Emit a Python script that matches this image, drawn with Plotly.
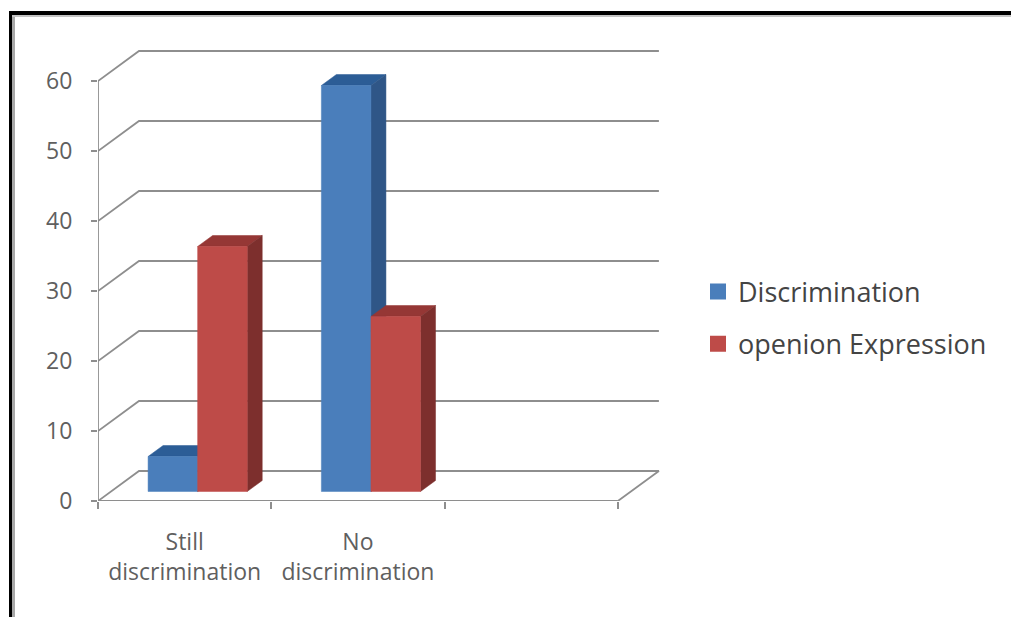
import plotly.graph_objects as go

# Chart data
categories = ["Still<br>discrimination", "No<br>discrimination"]
discrimination = [5, 58]
opinion_expression = [35, 25]
value_ticks = [0, 10, 20, 30, 40, 50, 60]
category_edges = [0, 1, 2, 3]

# Canvas and plot box, in pixels
WIDTH, HEIGHT = 1011, 617
LEFT, BOTTOM_Y = 98, 501
CAT_PX, UNIT_PX = 173.3, 7.0
RIGHT_Y_LIMIT, RIGHT_X_LIMIT = 45, 668
x_max = (RIGHT_X_LIMIT - LEFT) / CAT_PX
y_max = (BOTTOM_Y - RIGHT_Y_LIMIT) / UNIT_PX

# Oblique projection: depth 1 is the back wall of the chart box
DEPTH_X = 41 / CAT_PX
DEPTH_Y = 30 / UNIT_PX
BAR_FRONT, BAR_BACK = 0.317, 0.683
BAR_WIDTH = 0.286
BAR_START = 0.214

BLUE = ("#4a7ebb", "#2c5d96", "#2f5687")
RED = ("#be4b48", "#953735", "#7d2f2d")
GRID = "#8e8e8e"
FONT = "Open Sans"


def project(x, y, depth):
    return x + depth * DEPTH_X, y + depth * DEPTH_Y


def polygon(corners, colour):
    pts = [project(*c) for c in corners]
    xs = [p[0] for p in pts] + [pts[0][0]]
    ys = [p[1] for p in pts] + [pts[0][1]]
    return go.Scatter(x=xs, y=ys, mode="lines", fill="toself", fillcolor=colour,
                      line=dict(color=colour, width=0.5), hoverinfo="skip",
                      showlegend=False)


def bar_faces(x0, x1, value, colours):
    front, top, side = colours
    f, b = BAR_FRONT, BAR_BACK
    return [
        polygon([(x0, value, f), (x1, value, f), (x1, value, b), (x0, value, b)], top),
        polygon([(x1, 0, f), (x1, value, f), (x1, value, b), (x1, 0, b)], side),
        polygon([(x0, 0, f), (x1, 0, f), (x1, value, f), (x0, value, f)], front),
    ]


fig = go.Figure()

# Wall gridlines, running from the front axis back and then across
x_end = category_edges[-1]
for v in value_ticks:
    p0 = project(0, v, 0)
    p1 = project(0, v, 1)
    p2 = project(x_end, v, 1)
    xs = [p0[0], p1[0], p2[0]]
    ys = [p0[1], p1[1], p2[1]]
    if v == 0:
        p3 = project(x_end, v, 0)
        xs.append(p3[0])
        ys.append(p3[1])
    fig.add_trace(go.Scatter(x=xs, y=ys, mode="lines", hoverinfo="skip", showlegend=False,
                             line=dict(color=GRID, width=1.8)))

# Front axis lines; this trace also carries the secondary x axis that draws the ticks
fig.add_trace(go.Scatter(x=[0, 0, x_end], y=[value_ticks[-1], 0, 0], mode="lines",
                         xaxis="x2", hoverinfo="skip", showlegend=False,
                         line=dict(color=GRID, width=1.8)))

# Bars, blue before red so each red bar sits in front of its neighbour
for i in range(len(categories)):
    x0 = i + BAR_START
    fig.add_traces(bar_faces(x0, x0 + BAR_WIDTH, discrimination[i], BLUE))
    fig.add_traces(bar_faces(x0 + BAR_WIDTH, x0 + 2 * BAR_WIDTH, opinion_expression[i], RED))

# Legend entries
for name, colour in (("Discrimination", BLUE[0]), ("openion Expression", RED[0])):
    fig.add_trace(go.Scatter(x=[None], y=[None], mode="markers", name=name, legendgroup=name,
                             marker=dict(symbol="square", size=16, color=colour)))

# Outer frame: heavy black edge with a soft grey inner edge, top and left only
px = lambda v: (v - LEFT) / (RIGHT_X_LIMIT - LEFT)
py = lambda v: (BOTTOM_Y - v) / (BOTTOM_Y - RIGHT_Y_LIMIT)
frame = [
    (9, 11, WIDTH, 15, "#000000"),
    (9, 11, 12, HEIGHT, "#000000"),
    (12, 15, 15, HEIGHT, "#a8a8a8"),
    (12, 15, WIDTH, 17, "#c4c4c4"),
]
shapes = [dict(type="rect", xref="paper", yref="paper", x0=px(a), x1=px(c), y0=py(b), y1=py(d),
               fillcolor=col, line=dict(width=0), layer="above") for a, b, c, d, col in frame]

fig.update_layout(
    width=WIDTH, height=HEIGHT, autosize=False,
    margin=dict(l=LEFT, r=WIDTH - RIGHT_X_LIMIT, t=RIGHT_Y_LIMIT, b=HEIGHT - BOTTOM_Y),
    paper_bgcolor="white", plot_bgcolor="rgba(0,0,0,0)",
    shapes=shapes,
    xaxis=dict(range=[0, x_max], showgrid=False, zeroline=False, showline=False,
               tickmode="array", tickvals=[i + 0.5 for i in range(len(categories))],
               ticktext=categories, ticks="", ticklabelstandoff=25,
               tickfont=dict(family=FONT, size=23, color="#5f5f5f")),
    xaxis2=dict(range=[0, x_max], overlaying="x", anchor="y", side="bottom", showgrid=False,
                zeroline=False, showline=False, tickmode="array", tickvals=category_edges,
                ticktext=[""] * len(category_edges), ticks="outside", ticklen=7, tickwidth=1.8,
                tickcolor=GRID),
    yaxis=dict(range=[0, y_max], showgrid=False, zeroline=False, showline=False,
               tickmode="array", tickvals=value_ticks, ticks="outside", ticklen=6, tickwidth=1.8,
               tickcolor=GRID, ticklabelstandoff=14,
               tickfont=dict(family=FONT, size=23, color="#5f5f5f")),
    legend=dict(x=(698 - LEFT) / (RIGHT_X_LIMIT - LEFT), xanchor="left", y=py(318), yanchor="middle",
                font=dict(family=FONT, size=27, color="#444444"), tracegroupgap=14,
                bgcolor="rgba(0,0,0,0)", itemclick=False, itemdoubleclick=False),
)

fig.write_html("out.html", config=dict(displayModeBar=False))
